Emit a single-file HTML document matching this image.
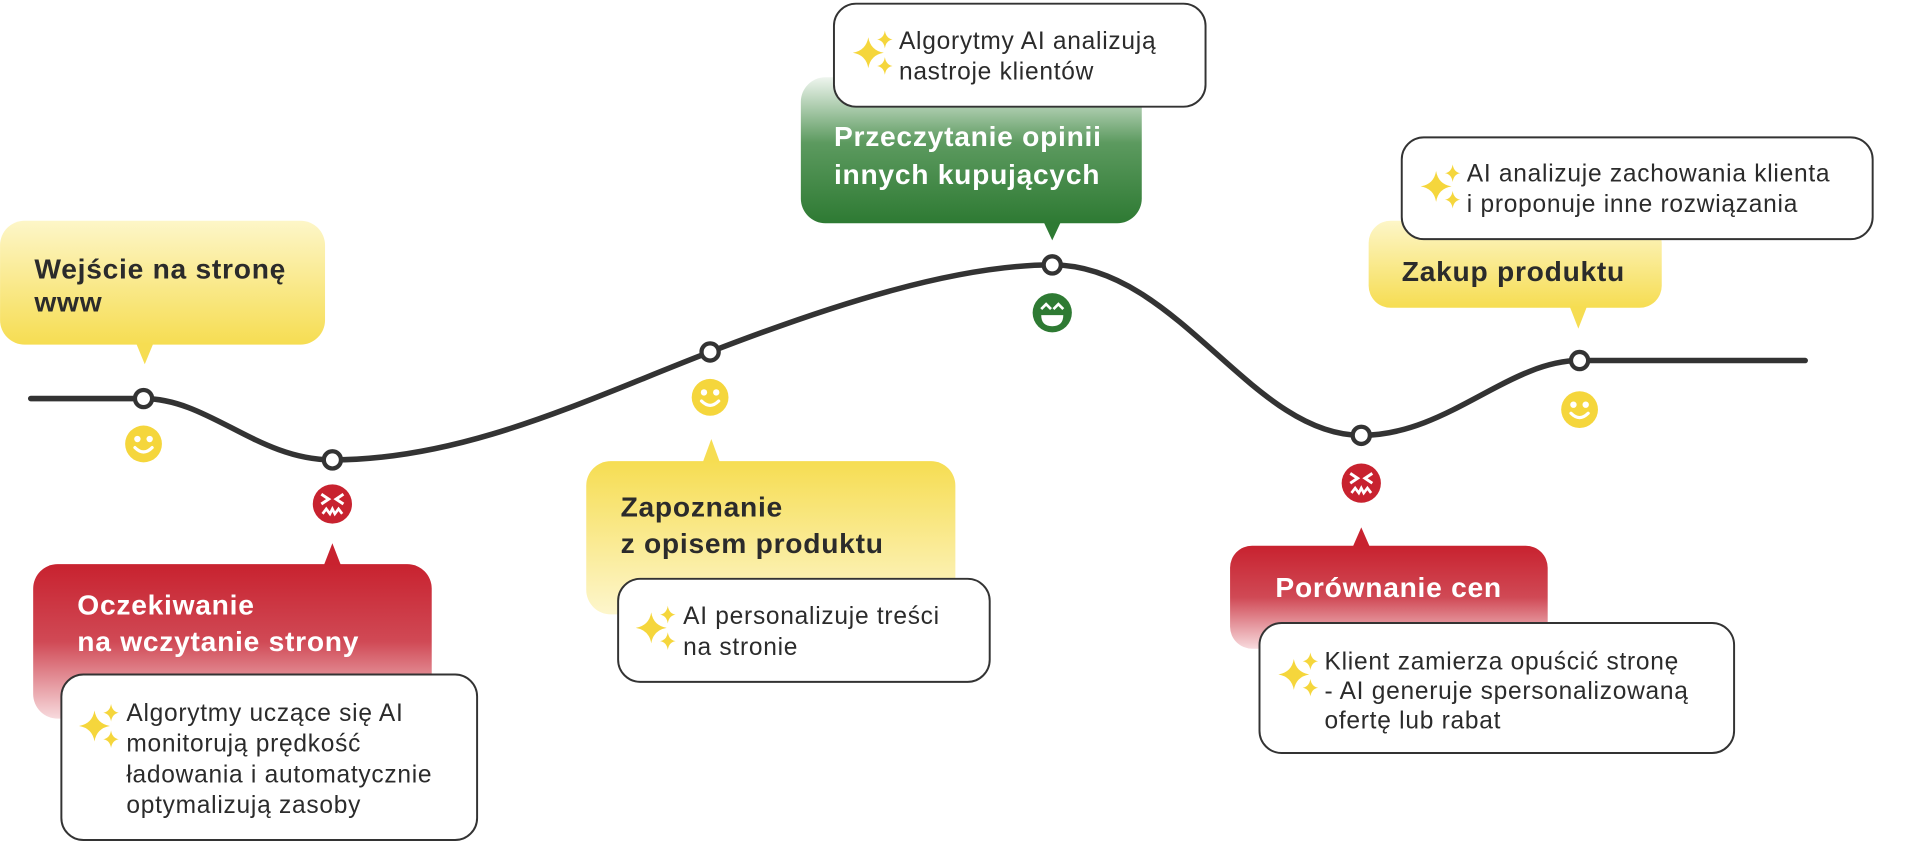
<!DOCTYPE html>
<html><head><meta charset="utf-8">
<style>
html,body{margin:0;padding:0;background:#fff;}
svg{display:block;}
text{font-family:"Liberation Sans",sans-serif;}
.t{font-weight:bold;font-size:23px;letter-spacing:0.6px;}
.a{font-size:20px;fill:#2b2b2b;letter-spacing:0.6px;}
</style></head>
<body>
<svg width="1923" height="842" viewBox="0 0 1568 686.6" xmlns="http://www.w3.org/2000/svg">
<defs>
<linearGradient id="yD" x1="0" y1="0" x2="0" y2="1"><stop offset="0" stop-color="#fdf6c8"/><stop offset="1" stop-color="#f6dd52"/></linearGradient>
<linearGradient id="yU" x1="0" y1="0" x2="0" y2="1"><stop offset="0" stop-color="#f6dd52"/><stop offset="1" stop-color="#fdf6cc"/></linearGradient>
<linearGradient id="rU" x1="0" y1="0" x2="0" y2="1"><stop offset="0" stop-color="#c8222f"/><stop offset="0.5" stop-color="#d04955"/><stop offset="1" stop-color="#f7dadd"/></linearGradient>
<linearGradient id="gD" x1="0" y1="0" x2="0" y2="1"><stop offset="0" stop-color="#eef5ee"/><stop offset="0.45" stop-color="#5c9a5f"/><stop offset="1" stop-color="#2e7a33"/></linearGradient>
<g id="sp" fill="#f5d63c" transform="scale(0.9)">
<path d="M0,-14 Q2,-2 14,0 Q2,2 0,14 Q-2,2 -14,0 Q-2,-2 0,-14Z"/>
<path d="M15,-20 Q16,-13 22,-12 Q16,-11 15,-4 Q14,-11 8,-12 Q14,-13 15,-20Z"/>
<path d="M15,4 Q16,11 22,12 Q16,13 15,20 Q14,13 8,12 Q14,11 15,4Z"/>
</g>
<g id="hy"><circle r="15" fill="#f5d63c"/><circle cx="-5" cy="-4" r="2.6" fill="#fff"/><circle cx="5" cy="-4" r="2.6" fill="#fff"/><path d="M-7,3 Q0,10 7,3" stroke="#fff" stroke-width="2.6" fill="none" stroke-linecap="round"/></g>
<g id="sad"><circle r="16" fill="#c8222f"/><path d="M-9,-8 L-3,-4 L-9,0 M9,-8 L3,-4 L9,0" stroke="#fff" stroke-width="2.4" fill="none"/><path d="M-8,8 L-5,4 L-2,8 L0,4 L2,8 L5,4 L8,8" stroke="#fff" stroke-width="2.2" fill="none"/></g>
<g id="gr"><circle r="16" fill="#2e7a33"/><path d="M-9,-3 L-5,-7 L-1,-3 M1,-3 L5,-7 L9,-3" stroke="#fff" stroke-width="2.2" fill="none"/><path d="M-9,2 L9,2 Q9,11 0,11 Q-9,11 -9,2Z" fill="#fff"/></g>
</defs>

<path d="M25,325 L117,325 C170,325 210,375 271,375 C380,375 480,325 579,287 C680,248 780,216 858,216 C960,216 1020,355 1110,355 C1180,355 1230,294 1288,294 L1472,294" stroke="#333" stroke-width="4.5" fill="none" stroke-linecap="round"/>
<g fill="#fff" stroke="#333" stroke-width="3.5">
<circle cx="117" cy="325" r="7"/><circle cx="271" cy="375" r="7"/><circle cx="579" cy="287" r="7"/><circle cx="858" cy="216" r="7"/><circle cx="1110" cy="355" r="7"/><circle cx="1288" cy="294" r="7"/>
</g>
<use href="#hy" x="117" y="362"/><use href="#sad" x="271" y="411"/><use href="#hy" x="579" y="324"/><use href="#gr" x="858" y="255"/><use href="#sad" x="1110" y="394"/><use href="#hy" x="1288" y="334"/>

<rect x="0" y="180" width="265" height="101" rx="20" fill="url(#yD)"/>
<path d="M111,280 L125,280 L118,297Z" fill="#f6dd52"/>
<text class="t" x="28" y="227" fill="#2b2b2b">Wejście na stronę</text>
<text class="t" x="28" y="254" fill="#2b2b2b">www</text>

<path d="M264,461 L278,461 L271,443Z" fill="#c8222f"/>
<rect x="27" y="460" width="325" height="126" rx="20" fill="url(#rU)"/>
<text class="t" x="63" y="501" fill="#fff">Oczekiwanie</text>
<text class="t" x="63" y="531" fill="#fff">na wczytanie strony</text>
<rect x="50" y="550" width="339" height="135" rx="18" fill="#fff" stroke="#333" stroke-width="1.6"/>
<use href="#sp" x="77" y="592"/>
<text class="a" x="103" y="588">Algorytmy uczące się AI</text>
<text class="a" x="103" y="613">monitorują prędkość</text>
<text class="a" x="103" y="638">ładowania i automatycznie</text>
<text class="a" x="103" y="663">optymalizują zasoby</text>

<path d="M573,377 L587,377 L580,358Z" fill="#f6dd52"/>
<rect x="478" y="376" width="301" height="125" rx="20" fill="url(#yU)"/>
<text class="t" x="506" y="421" fill="#2b2b2b">Zapoznanie</text>
<text class="t" x="506" y="451" fill="#2b2b2b">z opisem produktu</text>
<rect x="504" y="472" width="303" height="84" rx="18" fill="#fff" stroke="#333" stroke-width="1.6"/>
<use href="#sp" x="531" y="512"/>
<text class="a" x="557" y="509">AI personalizuje treści</text>
<text class="a" x="557" y="534">na stronie</text>

<rect x="653" y="63" width="278" height="119" rx="20" fill="url(#gD)"/>
<path d="M851,181 L865,181 L858,196Z" fill="#2e7a33"/>
<text class="t" x="680" y="119" fill="#fff">Przeczytanie opinii</text>
<text class="t" x="680" y="150" fill="#fff">innych kupujących</text>
<rect x="680" y="3" width="303" height="84" rx="18" fill="#fff" stroke="#333" stroke-width="1.6"/>
<use href="#sp" x="708" y="43"/>
<text class="a" x="733" y="40">Algorytmy AI analizują</text>
<text class="a" x="733" y="65">nastroje klientów</text>

<rect x="1116" y="180" width="239" height="71" rx="18" fill="url(#yD)"/>
<path d="M1280,250 L1294,250 L1287,268Z" fill="#f6dd52"/>
<text class="t" x="1143" y="229" fill="#2b2b2b">Zakup produktu</text>
<rect x="1143" y="112" width="384" height="83" rx="18" fill="#fff" stroke="#333" stroke-width="1.6"/>
<use href="#sp" x="1171" y="152"/>
<text class="a" x="1196" y="148">AI analizuje zachowania klienta</text>
<text class="a" x="1196" y="173">i proponuje inne rozwiązania</text>

<path d="M1103,446 L1117,446 L1110,430Z" fill="#c8222f"/>
<rect x="1003" y="445" width="259" height="84" rx="18" fill="url(#rU)"/>
<text class="t" x="1040" y="487" fill="#fff">Porównanie cen</text>
<rect x="1027" y="508" width="387" height="106" rx="18" fill="#fff" stroke="#333" stroke-width="1.6"/>
<use href="#sp" x="1055" y="550"/>
<text class="a" x="1080" y="546">Klient zamierza opuścić stronę</text>
<text class="a" x="1080" y="570">- AI generuje spersonalizowaną</text>
<text class="a" x="1080" y="594">ofertę lub rabat</text>
</svg>
</body></html>
